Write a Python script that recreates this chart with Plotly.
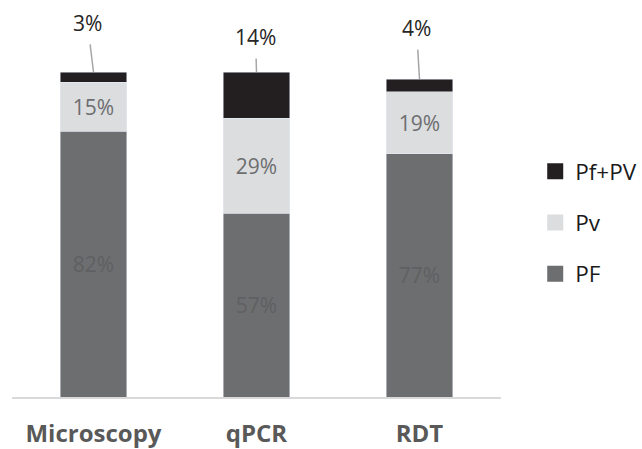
import plotly.graph_objects as go

categories = ["Microscopy", "qPCR", "RDT"]
pf_values = [81.8, 56.6, 74.8]
pv_values = [15.1, 29.2, 19.1]
pfpv_values = [3.1, 14.2, 3.9]
pf_labels = ["82%", "57%", "77%"]
pv_labels = ["15%", "29%", "19%"]
pfpv_labels = ["3%", "14%", "4%"]

C_PF = "#6d6e70"
C_PV = "#dcdddf"
C_PFPV = "#231f20"
FONT = "Open Sans"
PCT = 21

fig = go.Figure()
fig.add_trace(go.Bar(x=categories, y=pf_values, name="PF", marker_color=C_PF,
                     text=pf_labels, textposition="inside", insidetextanchor="middle",
                     textfont=dict(size=PCT, color="#606062", family=FONT),
                     showlegend=False, hoverinfo="skip"))
fig.add_trace(go.Bar(x=categories, y=pv_values, name="Pv", marker_color=C_PV,
                     text=pv_labels, textposition="inside", insidetextanchor="middle",
                     textfont=dict(size=PCT, color="#6d6e70", family=FONT),
                     showlegend=False, hoverinfo="skip"))
fig.add_trace(go.Bar(x=categories, y=pfpv_values, name="Pf+PV", marker_color=C_PFPV,
                     showlegend=False, hoverinfo="skip"))

# legend entries (square symbols), top to bottom
for name, col in [("Pf+PV", C_PFPV), ("Pv", C_PV), ("PF", C_PF)]:
    fig.add_trace(go.Scatter(x=[None], y=[None], mode="markers", name=name,
                             legendgroup=name,
                             marker=dict(symbol="square", size=16, color=col)))

# top labels with leader lines
offsets = [(-6, -49), (-1, -35), (-3, -51)]
for i, cat in enumerate(categories):
    total = pf_values[i] + pv_values[i] + pfpv_values[i]
    ax, ay = offsets[i]
    fig.add_annotation(x=cat, y=total, text=pfpv_labels[i], showarrow=True,
                       arrowhead=0, arrowwidth=1.5, arrowcolor="#a6a6a6",
                       ax=ax, ay=ay, startstandoff=6,
                       font=dict(size=PCT, color="#262626", family=FONT))

fig.update_layout(
    width=642, height=449,
    barmode="stack", bargap=0.595,
    plot_bgcolor="white", paper_bgcolor="white",
    margin=dict(l=12, r=141, t=20, b=52, autoexpand=False),
    font=dict(family=FONT),
    legend=dict(x=1.07, y=0.655, xanchor="left", yanchor="top",
                traceorder="grouped", tracegroupgap=19,
                font=dict(size=22.5, color="#1a1a1a", family=FONT),
                bgcolor="rgba(0,0,0,0)"),
    xaxis=dict(showline=True, linecolor="#d9d9d9", linewidth=2,
               ticks="", ticklabelstandoff=14, automargin=False,
               tickfont=dict(size=24, color="#595959", family=FONT, weight="bold"),
               range=[-0.5, 2.5]),
    yaxis=dict(visible=False, range=[0, 116.0], showgrid=False, zeroline=False,
               automargin=False),
)

fig.write_html("out.html")
